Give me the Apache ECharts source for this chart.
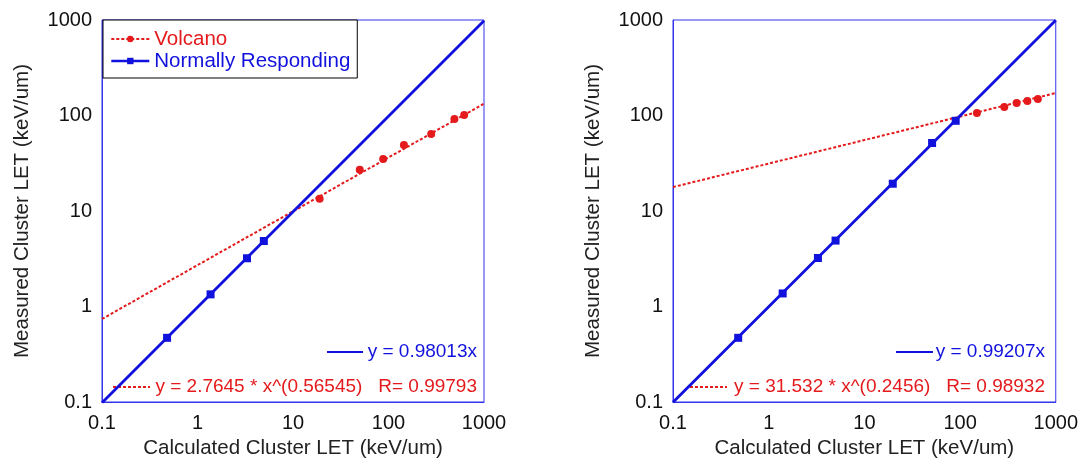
<!DOCTYPE html>
<html>
<head>
<meta charset="utf-8">
<script src="https://cdn.jsdelivr.net/npm/echarts@6/dist/echarts.min.js"></script>
<style>html,body{margin:0;padding:0;background:#fff;}#c{width:1081px;height:469px;}</style>
</head>
<body>
<div id="c"></div>
<script>
// ---- data ----
var leftVolcanoX = [19, 50, 88, 145, 280, 490, 620];
var leftVolcanoY = [13.4, 27, 35, 49, 64, 92, 101];
var leftNormalX = [0.48, 1.37, 3.3, 4.95];
var leftNormalY = [0.47, 1.34, 3.2, 4.85];
var leftVolcanoFitX = [0.1, 1000];
var leftVolcanoFitY = [0.74, 133];
var leftNormalFitX = [0.1, 1000];
var leftNormalFitY = [0.098, 980];

var rightVolcanoX = [150, 290, 390, 505, 650];
var rightVolcanoY = [106, 123, 135, 142, 149];
var rightNormalX = [0.48, 1.4, 3.27, 5.0, 19.8, 51, 90];
var rightNormalY = [0.47, 1.37, 3.22, 4.9, 19.3, 51.5, 88];
var rightVolcanoFitX = [0.1, 1000];
var rightVolcanoFitY = [17.8, 172];
var rightNormalFitX = [0.1, 1000];
var rightNormalFitY = [0.0992, 992];

var seriesNames = ['Volcano', 'Normally Responding'];
var eqLeft = ['y = 0.98013x', 'y = 2.7645 * x^(0.56545)   R= 0.99793'];
var eqRight = ['y = 0.99207x', 'y = 31.532 * x^(0.2456)   R= 0.98932'];
var xTitle = 'Calculated Cluster LET (keV/um)';
var yTitle = 'Measured Cluster LET (keV/um)';

function pairs(xs, ys) { return xs.map(function (x, i) { return [x, ys[i]]; }); }

var RED = '#e41a1c';
var BLUE = '#1111dd';
var FONT = '"Liberation Sans", Arial, sans-serif';
var AX = '#3333ee';

function xAxis(gi) {
  return {
    type: 'log', logBase: 10, min: 0.1, max: 1000, gridIndex: gi,
    name: xTitle, nameLocation: 'middle', nameGap: 30,
    nameTextStyle: { fontSize: 20.5, color: '#222', fontFamily: FONT },
    axisLine: { show: true, lineStyle: { color: AX, width: 1 } },
    axisTick: { show: false }, splitLine: { show: false },
    axisLabel: { fontSize: 20, color: '#111', fontFamily: FONT, margin: 11,
      formatter: function (v) { return String(+v.toPrecision(6)); } }
  };
}
function yAxis(gi) {
  return {
    type: 'log', logBase: 10, min: 0.1, max: 1000, gridIndex: gi,
    name: yTitle, nameLocation: 'middle', nameGap: 69, nameRotate: 90,
    nameTextStyle: { fontSize: 20.5, color: '#222', fontFamily: FONT },
    axisLine: { show: true, lineStyle: { color: AX, width: 1 } },
    axisTick: { show: false }, splitLine: { show: false },
    axisLabel: { fontSize: 20, color: '#111', fontFamily: FONT, margin: 10,
      formatter: function (v) { return String(+v.toPrecision(6)); } }
  };
}

function pointSeries(name, gi, data, color, symbol, size) {
  return {
    name: name, type: 'line', xAxisIndex: gi, yAxisIndex: gi, data: data,
    symbol: symbol, symbolSize: size, showSymbol: true,
    itemStyle: { color: color },
    lineStyle: { opacity: 0, width: 0 }, z: 5, animation: false
  };
}
function fitSeries(gi, data, color, dashed) {
  return {
    type: 'line', xAxisIndex: gi, yAxisIndex: gi, data: data,
    symbol: 'none', showSymbol: false, silent: true,
    lineStyle: { color: color, width: dashed ? 2 : 2.8, type: dashed ? [3, 2] : 'solid' },
    z: dashed ? 3 : 4, animation: false
  };
}

function eqGraphics(xRightText, blueSample, redSample, texts) {
  return [
    { type: 'line', shape: { x1: blueSample[0], y1: 352, x2: blueSample[1], y2: 352 },
      style: { stroke: BLUE, lineWidth: 2 } },
    { type: 'text', x: xRightText, y: 352,
      style: { text: texts[0], fill: BLUE, font: '19px ' + FONT, textAlign: 'right', textVerticalAlign: 'middle', verticalAlign: 'middle' } },
    { type: 'line', shape: { x1: redSample[0], y1: 387, x2: redSample[1], y2: 387 },
      style: { stroke: RED, lineWidth: 2, lineDash: [3, 2] } },
    { type: 'text', x: xRightText, y: 387,
      style: { text: texts[1], fill: RED, font: '19px ' + FONT, textAlign: 'right', textVerticalAlign: 'middle', verticalAlign: 'middle' } }
  ];
}

var chart = echarts.init(document.getElementById('c'), null, { renderer: 'canvas' });
chart.setOption({
  backgroundColor: '#fff',
  animation: false,
  textStyle: { fontFamily: FONT },
  grid: [
    { left: 102, right: 597, top: 20, bottom: 67, show: true, borderColor: AX, borderWidth: 1, backgroundColor: 'transparent' },
    { left: 673, right: 25, top: 20, bottom: 67, show: true, borderColor: AX, borderWidth: 1, backgroundColor: 'transparent' }
  ],
  xAxis: [xAxis(0), xAxis(1)],
  yAxis: [yAxis(0), yAxis(1)],
  legend: {
    left: 103, top: 20, orient: 'vertical',
    padding: [8, 7, 6, 7], itemGap: 0, itemWidth: 38, itemHeight: 8,
    backgroundColor: '#fff', borderColor: '#000', borderWidth: 1, borderRadius: 0,
    textStyle: { fontSize: 20.5, lineHeight: 22, fontFamily: FONT },
    data: [
      { name: seriesNames[0], textStyle: { color: RED },
        lineStyle: { color: RED, width: 2, type: [3, 2], opacity: 1 } },
      { name: seriesNames[1], textStyle: { color: BLUE },
        lineStyle: { color: BLUE, width: 2.6, type: 'solid', opacity: 1 } }
    ],
    z: 10
  },
  series: [
    fitSeries(0, pairs(leftVolcanoFitX, leftVolcanoFitY), RED, true),
    fitSeries(0, pairs(leftNormalFitX, leftNormalFitY), BLUE, false),
    pointSeries(seriesNames[0], 0, pairs(leftVolcanoX, leftVolcanoY), RED, 'circle', 8),
    pointSeries(seriesNames[1], 0, pairs(leftNormalX, leftNormalY), BLUE, 'rect', 8),
    fitSeries(1, pairs(rightVolcanoFitX, rightVolcanoFitY), RED, true),
    fitSeries(1, pairs(rightNormalFitX, rightNormalFitY), BLUE, false),
    pointSeries(seriesNames[0], 1, pairs(rightVolcanoX, rightVolcanoY), RED, 'circle', 8),
    pointSeries(seriesNames[1], 1, pairs(rightNormalX, rightNormalY), BLUE, 'rect', 8)
  ],
  graphic: eqGraphics(477, [327, 363], [113, 150], eqLeft)
    .concat(eqGraphics(1045, [896, 933], [690, 727], eqRight))
});
</script>
</body>
</html>
